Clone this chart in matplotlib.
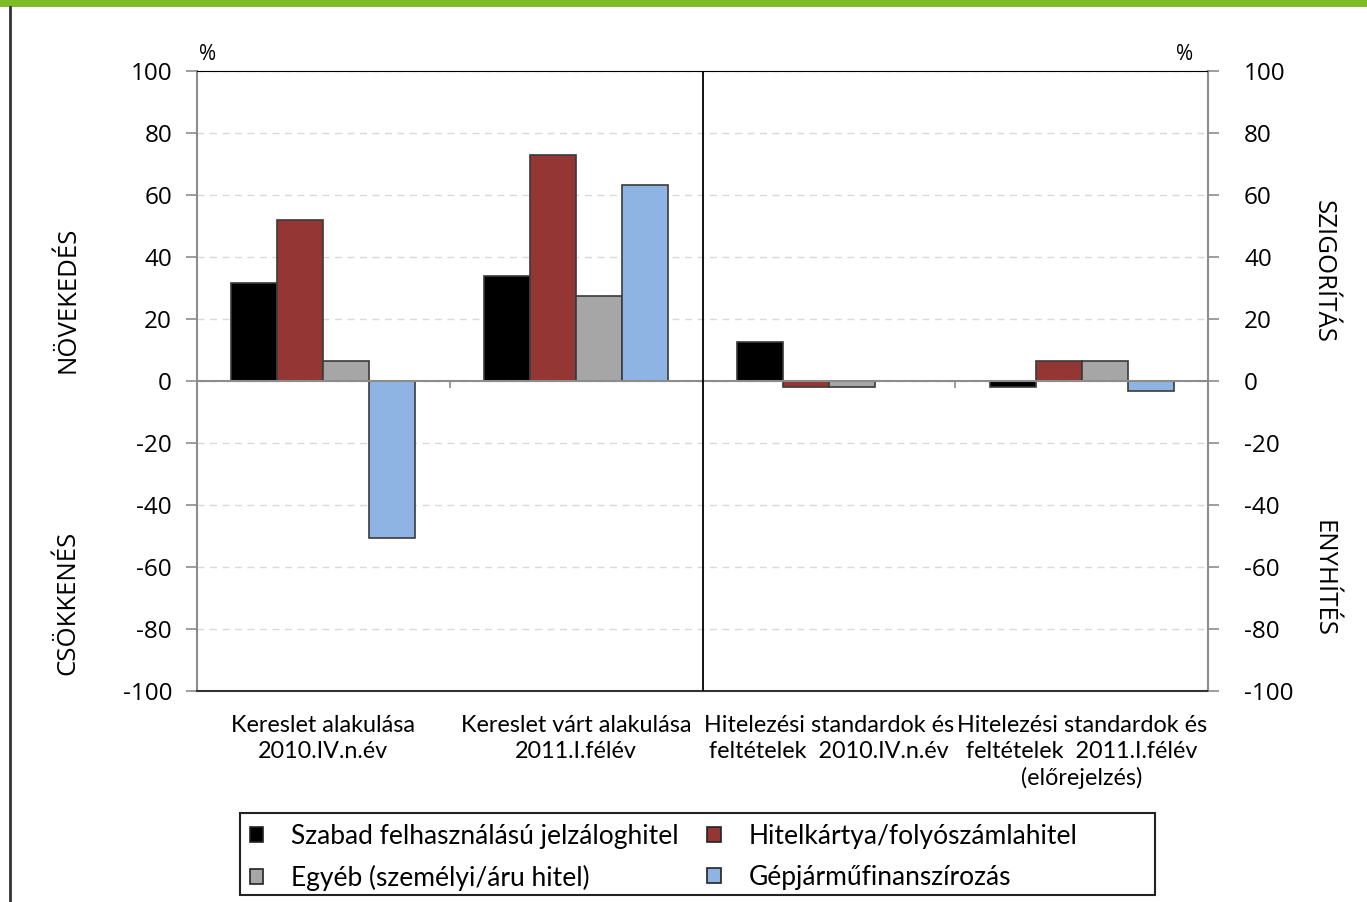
import matplotlib.pyplot as plt
from matplotlib.patches import Patch, Rectangle
from matplotlib.lines import Line2D
import numpy as np

# Adatok
kategoriak = ['Kereslet alakulása\n2010.IV.n.év',
              'Kereslet várt alakulása\n2011.I.félév',
              'Hitelezési standardok és\nfeltételek  2010.IV.n.év',
              'Hitelezési standardok és\nfeltételek  2011.I.félév\n(előrejelzés)']
sorozatok = ['Szabad felhasználású jelzáloghitel', 'Hitelkártya/folyószámlahitel',
             'Egyéb (személyi/áru hitel)', 'Gépjárműfinanszírozás']
jelzalog = [31.6, 33.9, 12.5, -2.0]
hitelkartya = [52.0, 73.0, -2.0, 6.5]
egyeb = [6.5, 27.4, -2.0, 6.5]
gepjarmu = [-50.5, 63.3, 0.0, -3.2]
szinek = ['#000000', '#943634', '#A6A6A6', '#8EB4E3']
yticks = [-100, -80, -60, -40, -20, 0, 20, 40, 60, 80, 100]

fo = ['Open Sans', 'DejaVu Sans']
keskeny = ['Lato', 'DejaVu Sans']

fig = plt.figure(figsize=(13.67, 9.02), dpi=100)
ax = fig.add_axes([197/1367, 1 - 691/902, 1011/1367, 620/902])

x = np.arange(len(kategoriak))
w = 0.182
for i, (vals, c) in enumerate(zip([jelzalog, hitelkartya, egyeb, gepjarmu], szinek)):
    ax.bar(x + (i - 1.5) * w, vals, w, color=c, edgecolor='#3a3a3a', linewidth=1.2, zorder=3)

ax.set_xlim(-0.5, 3.5)
ax.set_ylim(-100, 100)
ax.set_yticks(yticks)
ax.set_yticklabels([str(v) for v in yticks], family=fo, fontsize=17.5)

# Rácsvonalak és nullvonal
ax.grid(axis='y', color='#d9d9d9', linestyle=(0, (5, 4)), linewidth=1, zorder=0)
ax.axhline(0, color='#8c8c8c', linewidth=1.5, zorder=4)
ax.vlines([0.5, 2.5], -2.2, 0, color='#8c8c8c', linewidth=1.2, zorder=4)
ax.axvline(1.5, color='black', linewidth=1.3, zorder=5)

# Keret
ax.spines['top'].set_color('black')
ax.spines['bottom'].set_color('#333333')
ax.spines['bottom'].set_linewidth(1.5)
for s in ['left', 'right']:
    ax.spines[s].set_color('#8c8c8c')
    ax.spines[s].set_linewidth(1.5)

ax.tick_params(axis='y', length=8, width=1.2, color='#8c8c8c', pad=10)
ax.set_xticks(x)
ax.set_xticklabels(kategoriak, family=keskeny, fontsize=16.8, linespacing=1.3)
ax.tick_params(axis='x', length=0, pad=17)

# Jobb oldali tengely
ax2 = ax.twinx()
ax2.set_ylim(-100, 100)
ax2.set_yticks(yticks)
ax2.set_yticklabels([str(v) for v in yticks], family=fo, fontsize=17.5)
ax2.tick_params(axis='y', length=8, width=1.2, color='#8c8c8c', pad=18)
for s in ax2.spines.values():
    s.set_visible(False)

# Feliratok
fig.text(208/1367, 1 - 55/902, '%', family=fo, fontsize=15, ha='center', va='center')
fig.text(1185/1367, 1 - 55/902, '%', family=fo, fontsize=15, ha='center', va='center')
fig.text(68/1367, 1 - 300/902, 'NÖVEKEDÉS', family=fo, fontsize=18.5, rotation=90, ha='center', va='center')
fig.text(68/1367, 1 - 603/902, 'CSÖKKENÉS', family=fo, fontsize=18.5, rotation=90, ha='center', va='center')
fig.text(1323/1367, 1 - 272/902, 'SZIGORÍTÁS', family=fo, fontsize=18.5, rotation=-90, ha='center', va='center')
fig.text(1323/1367, 1 - 579/902, 'ENYHÍTÉS', family=fo, fontsize=18.5, rotation=-90, ha='center', va='center')

# Jelmagyarázat: soronként két elem, külön rajzolt kerettel
kezelok = [Patch(facecolor=c, edgecolor='#222222', linewidth=1.2) for c in szinek]
sorrend = [0, 2, 1, 3]
leg = fig.legend([kezelok[i] for i in sorrend], [sorozatok[i] for i in sorrend],
                 ncol=2, loc='upper left',
                 bbox_to_anchor=(242/1367, 1 - 816/902),
                 prop={'family': keskeny, 'size': 19},
                 frameon=False,
                 handlelength=0.5, handleheight=0.5, handletextpad=1.05,
                 columnspacing=1.1, borderpad=0.3, labelspacing=0.6, borderaxespad=0)
fig.patches.append(Rectangle((240/1367, 1 - 895/902), 915/1367, 82/902,
                             transform=fig.transFigure, facecolor='none',
                             edgecolor='#222222', linewidth=1.5))

# Díszítő keret
fig.patches.append(Rectangle((0, 1 - 7/902), 1, 7/902, transform=fig.transFigure,
                             facecolor='#80BA27', edgecolor='none'))
fig.lines.append(Line2D([10/1367, 10/1367], [0, 1 - 7/902], transform=fig.transFigure,
                        color='#333333', linewidth=2))

fig.savefig('out.png', dpi=100)
